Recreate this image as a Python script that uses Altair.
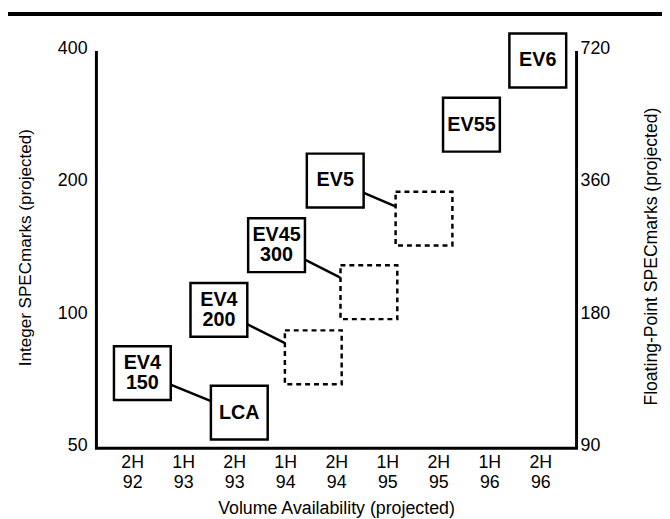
import json
import altair as alt
import pandas as pd

# ---- data ----
periods = ["2H 92", "1H 93", "2H 93", "1H 94", "2H 94", "1H 95", "2H 95", "1H 96", "2H 96"]
int_ticks = [50, 100, 200, 400]
fp_ticks = [90, 180, 360, 720]

chip_ids = ["EV4-150", "LCA", "EV4-200", "EV45", "EV5", "EV55", "EV6"]
chip_line1 = ["EV4", "LCA", "EV4", "EV45", "EV5", "EV55", "EV6"]
chip_line2 = ["150", "", "200", "300", "", "", ""]
chip_x = [0.20, 2.10, 1.70, 2.83, 3.98, 6.65, 7.95]          # position in half-year periods
chip_int = [73.9, 60.1, 102.9, 144.4, 202.6, 271.4, 379.9]   # integer SPECmarks

future_ids = ["F1", "F2", "F3"]
future_x = [3.55, 4.64, 5.72]
future_int = [80.3, 112.9, 166.0]

link_from = ["EV4-150", "EV4-200", "EV45", "EV5"]
link_to = ["LCA", "F1", "F2", "F3"]

# ---- tables ----
chips = pd.DataFrame({"id": chip_ids, "l1": chip_line1, "l2": chip_line2,
                      "x": chip_x, "v": chip_int})
future = pd.DataFrame({"id": future_ids, "x": future_x, "v": future_int})
pos = {n: (x, v) for n, x, v in zip(chip_ids + future_ids,
                                       chip_x + future_x, chip_int + future_int)}
rows = []
for i, (a, b) in enumerate(zip(link_from, link_to)):
    rows.append({"link": i, "o": 0, "x": pos[a][0], "v": pos[a][1]})
    rows.append({"link": i, "o": 1, "x": pos[b][0], "v": pos[b][1]})
links = pd.DataFrame(rows)

FONT = "Liberation Sans"
W, H = 486, 402

label_expr = "split(" + json.dumps(periods) + "[datum.value], ' ')"

x_enc = alt.X(
    "x:Q",
    scale=alt.Scale(domain=[-0.71, 8.70], nice=False, zero=False),
    axis=alt.Axis(
        values=list(range(len(periods))), labelExpr=label_expr,
        labelLineHeight=20, labelPadding=6, labelFlush=False, labelOverlap=False,
        labelFontSize=18, domainCap="square",
        title="Volume Availability (projected)", titleFontSize=18,
        titleX=243, titleY=67, titleBaseline="alphabetic", titleAlign="center",
    ),
)
y_enc = alt.Y(
    "v:Q",
    scale=alt.Scale(type="log", domain=[50, 400], nice=False),
    axis=alt.Axis(
        values=int_ticks, format="d", labelPadding=9, labelOffset=-2, labelFontSize=18,
        title="Integer SPECmarks (projected)", titleFontSize=17.3,
        titleAngle=270, titleX=-66.5, titleY=199, titleBaseline="alphabetic",
        titleAlign="center",
    ),
)

SQ = "M-1,-0.948H1V0.948H-1Z"

top_rule = alt.Chart(pd.DataFrame({"a": [0]})).mark_rule(
    color="black", strokeWidth=4
).encode(x=alt.value(-92), x2=alt.value(W + 87), y=alt.value(-37))

lines = alt.Chart(links).mark_line(color="black", strokeWidth=2.5).encode(
    x=x_enc, y=y_enc, detail="link:N", order="o:Q"
)

future_boxes = alt.Chart(future).mark_point(
    shape=SQ, size=3306, filled=True, fill="white", stroke="black",
    strokeWidth=2.5, strokeDash=[5, 4], opacity=1
).encode(x=x_enc, y=y_enc)

boxes = alt.Chart(chips).mark_point(
    shape=SQ, size=3306, filled=True, fill="white", stroke="black",
    strokeWidth=2.5, opacity=1
).encode(x=x_enc, y=y_enc)

text_style = dict(font=FONT, fontSize=20, fontWeight="bold",
                  baseline="middle", align="center", color="black")

single = alt.Chart(chips).transform_filter("datum.l2 == ''").mark_text(
    **text_style).encode(x=x_enc, y=y_enc, text="l1:N")
top_line = alt.Chart(chips).transform_filter("datum.l2 != ''").mark_text(
    dy=-10, **text_style).encode(x=x_enc, y=y_enc, text="l1:N")
bottom_line = alt.Chart(chips).transform_filter("datum.l2 != ''").mark_text(
    dy=10, **text_style).encode(x=x_enc, y=y_enc, text="l2:N")

main = alt.layer(top_rule, lines, future_boxes, boxes, single, top_line, bottom_line)

right = alt.Chart(pd.DataFrame({"fp": fp_ticks})).mark_point(opacity=0).encode(
    y=alt.Y(
        "fp:Q",
        scale=alt.Scale(type="log", domain=[90, 720], nice=False),
        axis=alt.Axis(
            orient="right", values=fp_ticks, format="d", labelPadding=4,
            labelOffset=-2, labelFontSize=18,
            title="Floating-Point SPECmarks (projected)", titleFontSize=17.8,
            titleAngle=270, titleX=81.5, titleY=208, titleBaseline="alphabetic",
            titleAlign="center",
        ),
    )
)

chart = (
    alt.layer(main, right)
    .resolve_scale(y="independent")
    .properties(
        width=W, height=H,
        autosize=alt.AutoSizeParams(type="none"),
        padding={"left": 89, "top": 40, "right": 87, "bottom": 72},
    )
    .configure_view(strokeWidth=0)
    .configure_axis(
        domainColor="black", domainWidth=3, ticks=False, grid=False,
        labelFont=FONT, labelColor="black", titleFont=FONT, titleColor="black",
        titleFontWeight="normal",
    )
)

chart.save("out.html", embed_options={"renderer": "svg", "actions": False})
